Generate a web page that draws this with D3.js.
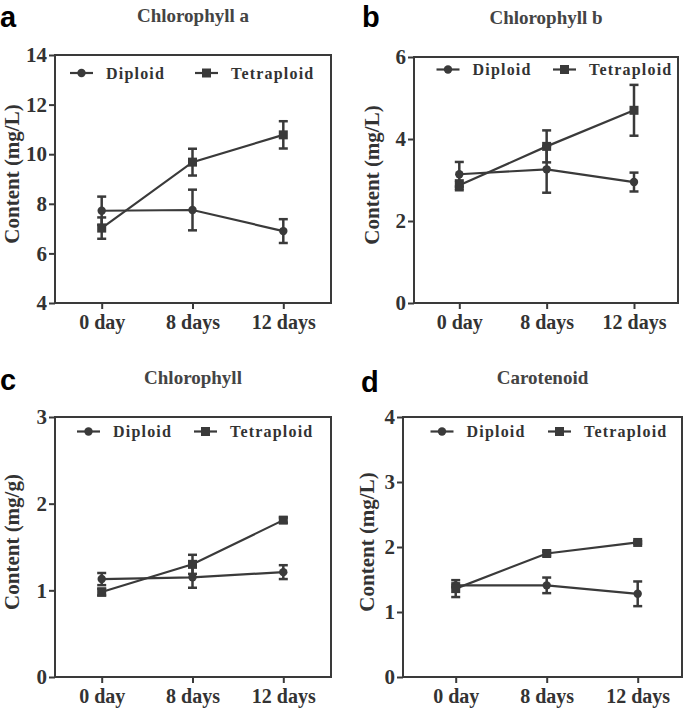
<!DOCTYPE html>
<html lang="en">
<head>
    <meta charset="UTF-8">
    <title>Chlorophyll and carotenoid content</title>
    <script src="https://d3js.org/d3.v7.min.js"></script>
    <style>
        body {
            margin: 0;
            background: #fff;
        }
        svg {
            display: block;
        }
    </style>
</head>
<body>
    <div id="chart"></div>

    <script>
        // categories on the x axis
        const categories = ["0 day", "8 days", "12 days"];
        const seriesNames = ["Diploid", "Tetraploid"];

        // Chlorophyll a (mg/L)
        const chlADiploid = [7.72, 7.75, 6.90];
        const chlADiploidSd = [0.57, 0.82, 0.48];
        const chlATetraploid = [7.02, 9.68, 10.78];
        const chlATetraploidSd = [0.43, 0.54, 0.55];

        // Chlorophyll b (mg/L)
        const chlBDiploid = [3.14, 3.26, 2.95];
        const chlBDiploidSd = [0.30, 0.57, 0.23];
        const chlBTetraploid = [2.87, 3.82, 4.70];
        const chlBTetraploidSd = [0.12, 0.39, 0.62];

        // Chlorophyll (mg/g)
        const chlDiploid = [1.13, 1.15, 1.21];
        const chlDiploidSd = [0.07, 0.12, 0.08];
        const chlTetraploid = [0.98, 1.30, 1.81];
        const chlTetraploidSd = [0.04, 0.11, 0.03];

        // Carotenoid (mg/L)
        const carDiploid = [1.41, 1.41, 1.28];
        const carDiploidSd = [0.03, 0.12, 0.19];
        const carTetraploid = [1.36, 1.90, 2.07];
        const carTetraploidSd = [0.13, 0.03, 0.02];

        // y tick values per panel
        const chlATicks = [4, 6, 8, 10, 12, 14];
        const chlBTicks = [0, 2, 4, 6];
        const chlTicks = [0, 1, 2, 3];
        const carTicks = [0, 1, 2, 3, 4];

        const ink = "#3a3a3a";
        const serif = "'Liberation Serif', 'Times New Roman', Times, 'DejaVu Serif', serif";
        const width = 685, height = 711;

        const panels = [
            { letter: "a", title: "Chlorophyll a", yLabel: "Content (mg/L)",
              diploid: chlADiploid, diploidSd: chlADiploidSd, tetra: chlATetraploid, tetraSd: chlATetraploidSd,
              ticks: chlATicks,
              box: { left: 55, right: 331, top: 55, bottom: 303 }, xFirst: 101.7, xLast: 283.3,
              letterPos: [0, 27], yLabelX: 11.5, legendY: 18, legendX: [15, 140] },
            { letter: "b", title: "Chlorophyll b", yLabel: "Content (mg/L)",
              diploid: chlBDiploid, diploidSd: chlBDiploidSd, tetra: chlBTetraploid, tetraSd: chlBTetraploidSd,
              ticks: chlBTicks,
              box: { left: 414, right: 678, top: 57, bottom: 303 }, xFirst: 459.3, xLast: 634,
              letterPos: [362, 27], yLabelX: 372, legendY: 12.5, legendX: [22.5, 139] },
            { letter: "c", title: "Chlorophyll", yLabel: "Content (mg/g)",
              diploid: chlDiploid, diploidSd: chlDiploidSd, tetra: chlTetraploid, tetraSd: chlTetraploidSd,
              ticks: chlTicks,
              box: { left: 55, right: 331, top: 417, bottom: 677 }, xFirst: 101.7, xLast: 283.3,
              letterPos: [0, 390], yLabelX: 11.5, legendY: 14.5, legendX: [22, 139] },
            { letter: "d", title: "Carotenoid", yLabel: "Content (mg/L)",
              diploid: carDiploid, diploidSd: carDiploidSd, tetra: carTetraploid, tetraSd: carTetraploidSd,
              ticks: carTicks,
              box: { left: 403, right: 682, top: 417, bottom: 677 }, xFirst: 455.7, xLast: 637.7,
              letterPos: [361, 392], yLabelX: 367, legendY: 14.5, legendX: [27.5, 145] }
        ];

        const svg = d3.select("#chart").append("svg")
            .attr("width", width).attr("height", height);

        function serifText(sel, size) {
            return sel.style("font-family", serif)
                .style("font-weight", "bold")
                .style("font-size", size + "px")
                .style("fill", "#333");
        }

        function drawMarker(g, type, x, y) {
            if (type === "circle") {
                g.append("circle").attr("cx", x).attr("cy", y).attr("r", 4.2).attr("fill", ink);
            } else {
                g.append("rect").attr("x", x - 4.5).attr("y", y - 4.5)
                    .attr("width", 9).attr("height", 9).attr("fill", ink);
            }
        }

        panels.forEach(p => {
            const b = p.box;
            const g = svg.append("g");

            const x = d3.scalePoint().domain(categories).range([p.xFirst, p.xLast]);
            const y = d3.scaleLinear()
                .domain(d3.extent(p.ticks))
                .range([b.bottom, b.top]);

            // panel letter
            g.append("text")
                .attr("x", p.letterPos[0]).attr("y", p.letterPos[1])
                .style("font-family", "'Liberation Sans', Arial, sans-serif")
                .style("font-weight", "bold").style("font-size", "29px")
                .style("fill", "#000")
                .text(p.letter);

            // title
            serifText(g.append("text"), 19)
                .attr("x", (b.left + b.right) / 2).attr("y", b.top - 33)
                .attr("text-anchor", "middle")
                .style("fill", "#444")
                .text(p.title);

            // y axis
            const yAxis = g.append("g")
                .attr("transform", `translate(${b.left},0)`)
                .call(d3.axisLeft(y).tickValues(p.ticks).tickSize(6).tickPadding(2).tickFormat(d3.format("d")));
            yAxis.select(".domain").remove();
            yAxis.selectAll(".tick line").attr("stroke", ink).attr("stroke-width", 2);
            serifText(yAxis.selectAll(".tick text"), 21);

            // x axis
            const xAxis = g.append("g")
                .attr("transform", `translate(0,${b.bottom})`)
                .call(d3.axisBottom(x).tickSize(6).tickPadding(6));
            xAxis.select(".domain").remove();
            xAxis.selectAll(".tick line").attr("stroke", ink).attr("stroke-width", 2);
            serifText(xAxis.selectAll(".tick text"), 20);

            // frame
            g.append("rect")
                .attr("x", b.left).attr("y", b.top)
                .attr("width", b.right - b.left).attr("height", b.bottom - b.top)
                .attr("fill", "none").attr("stroke", ink).attr("stroke-width", 2);

            // y label
            serifText(g.append("text"), 21)
                .attr("transform", `translate(${p.yLabelX},${(b.top + b.bottom) / 2 - 5}) rotate(-90)`)
                .attr("text-anchor", "middle").attr("dy", "0.35em")
                .text(p.yLabel);

            // series
            const series = [
                { values: p.diploid, sd: p.diploidSd, marker: "circle" },
                { values: p.tetra, sd: p.tetraSd, marker: "square" }
            ];
            const line = d3.line().x((d, i) => x(categories[i])).y(d => y(d));

            series.forEach(s => {
                g.append("path")
                    .datum(s.values)
                    .attr("d", line)
                    .attr("fill", "none").attr("stroke", ink).attr("stroke-width", 2.2);

                s.values.forEach((v, i) => {
                    const cx = x(categories[i]);
                    const lo = y(v - s.sd[i]), hi = y(v + s.sd[i]);
                    g.append("line").attr("x1", cx).attr("x2", cx).attr("y1", lo).attr("y2", hi)
                        .attr("stroke", ink).attr("stroke-width", 2.5);
                    [lo, hi].forEach(yy => {
                        g.append("line").attr("x1", cx - 4.5).attr("x2", cx + 4.5)
                            .attr("y1", yy).attr("y2", yy)
                            .attr("stroke", ink).attr("stroke-width", 2.5);
                    });
                    drawMarker(g, s.marker, cx, y(v));
                });
            });

            // legend
            seriesNames.forEach((name, i) => {
                const lx = b.left + p.legendX[i];
                const ly = b.top + p.legendY;
                g.append("line").attr("x1", lx).attr("x2", lx + 23).attr("y1", ly).attr("y2", ly)
                    .attr("stroke", ink).attr("stroke-width", 2.2);
                drawMarker(g, i === 0 ? "circle" : "square", lx + 11.5, ly);
                serifText(g.append("text"), 16)
                    .attr("x", lx + 36).attr("y", ly).attr("dy", "0.35em")
                    .style("letter-spacing", "1.2px")
                    .text(name);
            });
        });
    </script>
</body>
</html>
